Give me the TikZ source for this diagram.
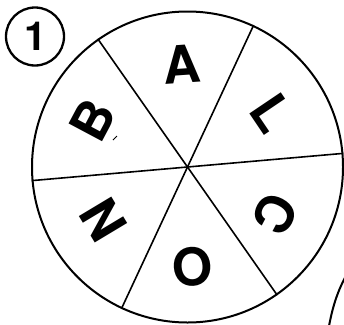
\documentclass[tikz,border=0pt]{standalone}
\usepackage{fontspec}
\setmainfont{TeX Gyre Heros}
\begin{document}
\begin{tikzpicture}[x=1pt,y=-1pt,
  rim/.style={line width=2pt},
  spoke/.style={line width=1.6pt},
  letter/.style={font=\fontsize{52}{52}\selectfont\bfseries, inner sep=0pt}]
\useasboundingbox (0,0) rectangle (344,324);
\fill[white] (0,0) rectangle (344,324);
% wheel
\node[circle, draw, rim, minimum size=311pt, inner sep=0pt] (wheel) at (187.5,167) {};
\draw[spoke] (wheel.5) -- (wheel.185);
\draw[spoke] (wheel.65) -- (wheel.245);
\draw[spoke] (wheel.125) -- (wheel.305);
% letters
\node[letter, rotate=4] (la) at (182,64) {A};
\node[letter, rotate=-56] (ll) at (272,113) {L};
\node[letter, rotate=-118] (lc) at (275.5,213.5) {C};
\node[letter, rotate=-176] (lo) at (193,266.5) {O};
\node[letter, rotate=121] (ln) at (104,220) {N};
\node[letter, rotate=62] (lb) at (93,120.5) {B};
\coordinate (m1) at (113,140);
\coordinate (m2) at (117,136);
\draw[line width=1pt] (m1) -- (m2);
% number
\node[circle, draw, line width=2.3pt, minimum size=58pt, inner sep=0pt] (num) at (35,36.5) {};
\node[font=\fontsize{40}{40}\selectfont\bfseries, inner sep=0pt] (one) at ([xshift=1pt]num.center) {1};
% neighbouring wheel edge
\coordinate (e1) at (329,326);
\coordinate (e2) at (347,274);
\draw[rim] (e1) .. controls (333,305) and (338,290) .. (e2);
\end{tikzpicture}
\end{document}
